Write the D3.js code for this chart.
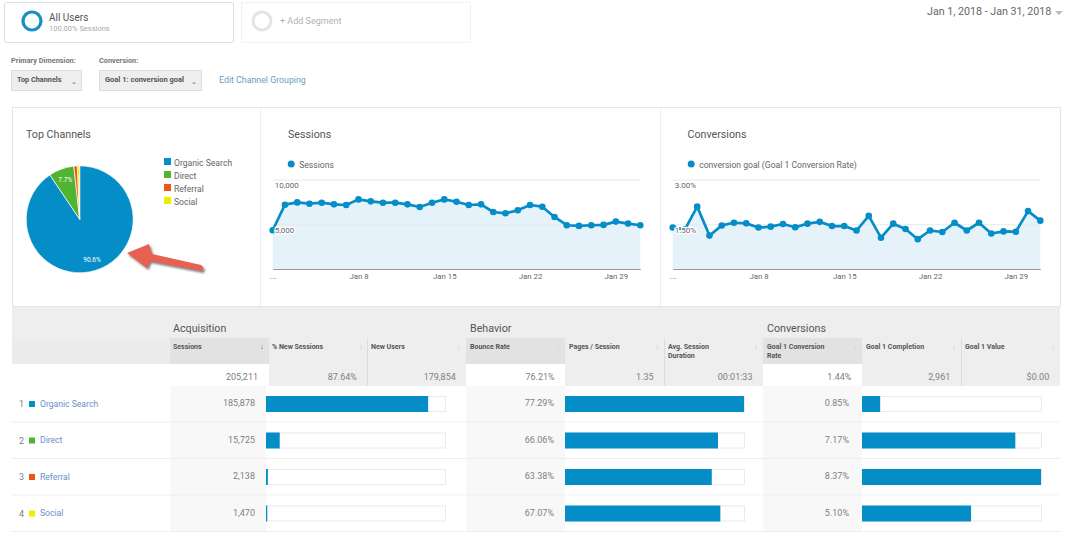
<!DOCTYPE html>
<html>
<head>
<meta charset="utf-8">
<style>
html, body { margin: 0; padding: 0; background: #fff; }
svg { display: block; font-family: Roboto, sans-serif; }
svg text { fill: #666; }
</style>
<script src="https://cdn.jsdelivr.net/npm/d3@7/dist/d3.min.js"></script>
</head>
<body>
<svg id="page" width="1073" height="539"></svg>
<script>
var BLUE = "#058dc7", GREEN = "#50b432", ORANGE = "#ed561b", YELLOW = "#edef00";

var channels = [
    {name: "Organic Search", color: BLUE, sessions: 185878, bounce: 77.29, conv: 0.85},
    {name: "Direct", color: GREEN, sessions: 15725, bounce: 66.06, conv: 7.17},
    {name: "Referral", color: ORANGE, sessions: 2138, bounce: 63.38, conv: 8.37},
    {name: "Social", color: YELLOW, sessions: 1470, bounce: 67.07, conv: 5.10}
];
var sessionsByDay = [4333, 7185, 7444, 7296, 7407, 7222, 7148, 7778, 7556, 7407, 7407, 7222, 6926, 7407, 7778, 7519,
    7148, 7222, 6370, 6222, 6556, 7148, 6963, 5815, 4889, 4815, 4889, 4926, 5296, 5074, 4889];
var convByDay = [1.39, 1.33, 2.09, 1.12, 1.46, 1.55, 1.53, 1.39, 1.42, 1.51, 1.40, 1.52, 1.58, 1.44, 1.44, 1.29,
    1.78, 1.05, 1.52, 1.34, 1.00, 1.29, 1.24, 1.55, 1.29, 1.55, 1.19, 1.26, 1.25, 1.94, 1.62];

var svg = d3.select("#page");

var addText = function (parent, x, y, str, size, opts) {
    opts = opts || {};
    return parent.append("text")
        .attr("x", x)
        .attr("y", y)
        .attr("text-anchor", opts.anchor || "start")
        .style("font-size", size + "px")
        .style("font-weight", opts.weight || 400)
        .style("fill", opts.fill || "#666")
        .text(str);
};

var addRect = function (parent, x, y, w, h, fill, stroke) {
    return parent.append("rect")
        .attr("x", x)
        .attr("y", y)
        .attr("width", w)
        .attr("height", h)
        .attr("fill", fill)
        .attr("stroke", stroke || "none");
};

// segment boxes and selectors
var seg = svg.append("g");
addRect(seg, 4.5, 2.5, 229, 40, "#fff", "#ddd").attr("rx", 2);
seg.append("circle").attr("cx", 32).attr("cy", 21).attr("r", 9)
    .attr("fill", "none").attr("stroke", "#1a8fc4").attr("stroke-width", 3.2);
addText(seg, 49, 21, "All Users", 10, {fill: "#555"});
addText(seg, 49, 31, "100.00% Sessions", 7.5, {fill: "#aaa"});
addRect(seg, 241.5, 2.5, 229, 40, "#fff", "#e6e6e6").attr("stroke-dasharray", "2,2");
seg.append("circle").attr("cx", 262).attr("cy", 21).attr("r", 9)
    .attr("fill", "none").attr("stroke", "#e4e4e4").attr("stroke-width", 3);
addText(seg, 280, 24, "+ Add Segment", 9, {fill: "#b0b0b0"});
addText(seg, 927, 15, "Jan 1, 2018 - Jan 31, 2018", 10.7, {fill: "#666"});
seg.append("path").attr("d", "M1055,11L1063,11L1059,15Z").attr("fill", "#bbb");

addText(seg, 11, 63, "Primary Dimension:", 7.3, {weight: 700, fill: "#777"});
addText(seg, 99, 63, "Conversion:", 7.3, {weight: 700, fill: "#777"});
addRect(seg, 11.5, 70.5, 70, 20, "#eee", "#ddd");
addText(seg, 17, 82, "Top Channels", 7.3, {weight: 700, fill: "#555"});
addText(seg, 74, 84, "\u2304", 7, {anchor: "middle", fill: "#666"});
addRect(seg, 99.5, 70.5, 102, 20, "#eee", "#ddd");
addText(seg, 105, 82, "Goal 1: conversion goal", 7.5, {weight: 700, fill: "#555"});
addText(seg, 194, 84, "\u2304", 7, {anchor: "middle", fill: "#666"});
addText(seg, 219, 83, "Edit Channel Grouping", 8.8, {fill: "#6a9dbf"});

// chart panels
var panel = svg.append("g");
addRect(panel, 12.5, 107.5, 1048, 199, "#fff", "#e6e6e6");
panel.append("line").attr("x1", 260.5).attr("x2", 260.5).attr("y1", 108).attr("y2", 306).attr("stroke", "#eee");
panel.append("line").attr("x1", 660.5).attr("x2", 660.5).attr("y1", 108).attr("y2", 306).attr("stroke", "#eee");
addText(panel, 26, 138, "Top Channels", 10.7, {fill: "#555"});
addText(panel, 288, 138, "Sessions", 10.7, {fill: "#555"});
addText(panel, 687.5, 138, "Conversions", 10.7, {fill: "#555"});

// pie
var pie = d3.pie().sort(null).value(function (d) { return d.sessions; });
var arc = d3.arc().innerRadius(0).outerRadius(53.5);
var labelArc = d3.arc().innerRadius(42).outerRadius(42);
var pieG = svg.append("g").attr("transform", "translate(79.7,219.3)");
var slices = pie(channels);
pieG.selectAll("path").data(slices).enter().append("path")
    .attr("d", arc)
    .attr("fill", function (d) { return d.data.color; })
    .attr("stroke", "#fff")
    .attr("stroke-width", 0.7);
pieG.selectAll("text").data(slices.slice(0, 2)).enter().append("text")
    .attr("transform", function (d) { return "translate(" + labelArc.centroid(d) + ")"; })
    .attr("text-anchor", "middle")
    .attr("dy", "0.35em")
    .style("font-size", "6.5px")
    .style("fill", "#fff")
    .text(function (d) { return (d.value / d3.sum(channels, function (c) { return c.sessions; }) * 100).toFixed(1) + "%"; });

var legend = svg.append("g").selectAll("g").data(channels).enter().append("g")
    .attr("transform", function (d, i) { return "translate(164," + (158 + i * 13) + ")"; });
legend.append("rect").attr("width", 7).attr("height", 7)
    .attr("fill", function (d) { return d.color; });
legend.append("text").attr("x", 10).attr("y", 7.5)
    .style("font-size", "8.6px")
    .style("fill", "#666")
    .text(function (d) { return d.name; });

// arrow annotation
var defs = svg.append("defs");
var shadow = defs.append("filter").attr("id", "arrowShadow")
    .attr("x", "-20%").attr("y", "-30%").attr("width", "140%").attr("height", "170%");
shadow.append("feDropShadow").attr("dx", 1.5).attr("dy", 2).attr("stdDeviation", 1.3)
    .attr("flood-color", "#333").attr("flood-opacity", 0.65);
svg.append("path")
    .attr("d", "M127,253L149,244L152,254L201,265Q205,268 202,271L150,261L147,268Z")
    .attr("fill", "#e8604f")
    .attr("filter", "url(#arrowShadow)");

// line charts
var days = d3.range(31).map(function (i) { return new Date(2018, 0, i + 1); });

var drawTrend = function (values, left, yMax, yTicks, yFormat, legendText) {
    var x, y, g, area, line, xAxis, yAxis, head, yG, xG;
    x = d3.scaleTime().domain([days[0], days[30]]).range([left, left + 367.6]);
    y = d3.scaleLinear().domain([0, yMax]).range([269, 179.5]);
    g = svg.append("g");

    head = g.append("g");
    head.append("circle").attr("cx", left + 18.5).attr("cy", 164).attr("r", 3.5).attr("fill", BLUE);
    addText(head, left + 26.5, 167.5, legendText, 8.6);

    area = d3.area()
        .x(function (d, i) { return x(days[i]); })
        .y0(y(0))
        .y1(function (d) { return y(d); });
    line = d3.line()
        .x(function (d, i) { return x(days[i]); })
        .y(function (d) { return y(d); });

    g.append("path").attr("d", area(values)).attr("fill", "#e6f2fa");
    yAxis = d3.axisLeft(y).tickValues(yTicks).tickSize(-367.6).tickFormat(yFormat);
    yG = g.append("g").attr("transform", "translate(" + left + ",0)").call(yAxis);
    yG.select(".domain").remove();
    yG.selectAll(".tick line").attr("stroke", "#e8e8e8");

    g.append("path").attr("d", line(values))
        .attr("fill", "none").attr("stroke", BLUE).attr("stroke-width", 2.7).attr("stroke-linejoin", "round");
    g.selectAll("circle.pt").data(values).enter().append("circle")
        .attr("class", "pt")
        .attr("cx", function (d, i) { return x(days[i]); })
        .attr("cy", function (d) { return y(d); })
        .attr("r", 3.3)
        .attr("fill", BLUE);

    // value labels sit inside the plot on a white halo, over the line
    yG.selectAll(".tick text").each(function () {
        var t = d3.select(this), p = d3.select(this.parentNode);
        g.append("text")
            .attr("transform", p.attr("transform"))
            .attr("x", left + 2)
            .attr("dy", "1em")
            .style("font-size", "8px")
            .style("fill", "#666")
            .style("stroke", "#fff")
            .style("stroke-width", 2.5)
            .style("paint-order", "stroke")
            .text(t.text());
        t.remove();
    });

    xAxis = d3.axisBottom(x)
        .tickValues([days[0], days[7], days[14], days[21], days[28]])
        .tickSize(0)
        .tickPadding(4)
        .tickFormat(function (d) { return d.getDate() === 1 ? "..." : d3.timeFormat("%b %-d")(d); });
    xG = g.append("g").attr("transform", "translate(0,269)").call(xAxis);
    xG.select(".domain").attr("stroke", "#999").attr("stroke-width", 1.2);
    xG.selectAll("text")
        .style("font-size", "7.8px")
        .style("font-family", "Roboto, sans-serif")
        .style("fill", "#666");
};

drawTrend(sessionsByDay, 272.7, 10000, [5000, 10000], d3.format(","), "Sessions");
drawTrend(convByDay, 672.7, 3, [1.5, 3], function (d) { return d.toFixed(2) + "%"; }, "conversion goal (Goal 1 Conversion Rate)");

// table
var colX = [170, 269, 367, 466, 565, 664, 763, 862, 961, 1060];
var table = svg.append("g");
addRect(table, 12, 307, 1048, 57, "#eee");
addRect(table, 12, 364, 158, 168, "#fff");

// sorted column of each group is darker in the header, lighter below
[0, 3, 6].forEach(function (i) {
    addRect(table, colX[i], 338, colX[i + 1] - colX[i], 26, "#e2e2e2");
    addRect(table, colX[i], 364, colX[i + 1] - colX[i], 22, "#fff");
    addRect(table, colX[i], 386, colX[i + 1] - colX[i], 146, "#f8f8f8");
});
[1, 2, 4, 5, 7, 8].forEach(function (i) {
    addRect(table, colX[i], 364, colX[i + 1] - colX[i], 22, "#eee");
});
addRect(table, 12, 338, 158, 26, "#ececec");
[2, 5, 8].forEach(function (i) {
    table.append("line").attr("x1", colX[i] + 0.5).attr("x2", colX[i] + 0.5).attr("y1", 338).attr("y2", 386).attr("stroke", "#ddd");
});

[["Acquisition", 0], ["Behavior", 3], ["Conversions", 6]].forEach(function (g) {
    addText(table, 173 + g[1] * 99, 332, g[0], 10.7, {fill: "#555"});
});

var headers = [["Sessions"], ["% New Sessions"], ["New Users"], ["Bounce Rate"], ["Pages / Session"],
    ["Avg. Session", "Duration"], ["Goal 1 Conversion", "Rate"], ["Goal 1 Completion"], ["Goal 1 Value"]];
var totals = ["205,211", "87.64%", "179,854", "76.21%", "1.35", "00:01:33", "1.44%", "2,961", "$0.00"];
headers.forEach(function (h, i) {
    h.forEach(function (s, j) {
        addText(table, 173 + i * 99, 348.5 + j * 9, s, 7, {weight: 700, fill: "#555"});
    });
    addText(table, colX[i] + 92, 348.5, i === 0 ? "\u2193" : "\u2195", 7, {anchor: "middle", fill: i === 0 ? "#555" : "#ccc"});
    addText(table, 258 + i * 98.9, 379.5, totals[i], 9, {anchor: "end", fill: "#808080"});
});

var rowY = d3.scaleBand().domain(d3.range(4)).range([386, 532]);
var sessionsX = d3.scaleLinear().domain([0, 205211]).range([0, 179]);
var bounceX = d3.scaleLinear().domain([0, 77.29]).range([0, 179]);
var convX = d3.scaleLinear().domain([0, 8.37]).range([0, 179]);

var drawBarCell = function (g, x0, trackW, w) {
    addRect(g, x0 + 0.5, 10.5, trackW, 15, "#fff", "#eaeaea");
    addRect(g, x0, 10, w, 16, BLUE);
};

var rows = table.selectAll("g.row").data(channels).enter().append("g")
    .attr("class", "row")
    .attr("transform", function (d, i) { return "translate(0," + rowY(i) + ")"; });

rows.each(function (d, i) {
    var g = d3.select(this);
    addRect(g, 266, 0, 200, rowY.bandwidth(), "#fff");
    addRect(g, 565, 0, 198, rowY.bandwidth(), "#fff");
    addRect(g, 862, 0, 198, rowY.bandwidth(), "#fff");
    g.append("line").attr("x1", 12).attr("x2", 1060)
        .attr("y1", rowY.bandwidth() - 0.5).attr("y2", rowY.bandwidth() - 0.5)
        .attr("stroke", "#eee");
    addText(g, 19, 21, i + 1, 9, {fill: "#808080"});
    addRect(g, 29, 15, 6, 6, d.color);
    addText(g, 40, 20.5, d.name, 8.6, {fill: "#6b8fc9"});
    addText(g, 255, 20, d3.format(",")(d.sessions), 9, {anchor: "end", fill: "#808080"});
    addText(g, 554, 20, d.bounce.toFixed(2) + "%", 9, {anchor: "end", fill: "#808080"});
    addText(g, 849, 20, d.conv.toFixed(2) + "%", 9, {anchor: "end", fill: "#808080"});
    drawBarCell(g, 266, 179, sessionsX(d.sessions));
    drawBarCell(g, 565, 179, bounceX(d.bounce));
    drawBarCell(g, 862, 179, convX(d.conv));
});
</script>
</body>
</html>
